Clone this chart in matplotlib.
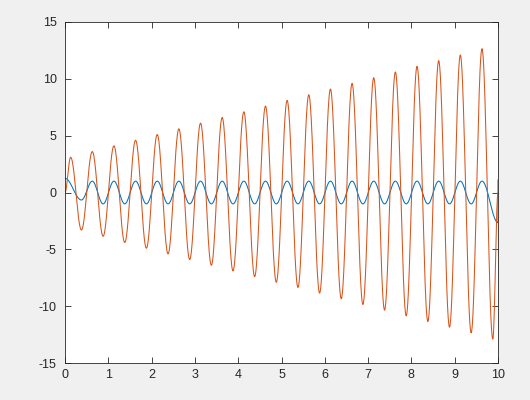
import numpy as np
import matplotlib.pyplot as plt

# extrema (t, value)
orange_t = [0.0, 0.13, 0.38, 0.63, 0.88, 1.13, 1.38, 1.63, 1.88, 2.13, 2.38,
            2.63, 2.88, 3.13, 3.38, 3.63, 3.88, 4.13, 4.38, 4.63, 4.88,
            5.13, 5.38, 5.63, 5.88, 6.13, 6.38, 6.63, 6.88, 7.13, 7.38,
            7.63, 7.88, 8.13, 8.38, 8.63, 8.88, 9.13, 9.38, 9.63, 9.88, 10.0]
orange_y = [0.0, 3.1, -3.3, 3.6, -3.85, 4.1, -4.4, 4.6, -4.9, 5.1, -5.4,
            5.6, -5.9, 6.1, -6.4, 6.6, -6.9, 7.1, -7.4, 7.6, -7.9,
            8.1, -8.35, 8.6, -8.85, 9.1, -9.35, 9.6, -9.85, 10.1, -10.35,
            10.6, -10.85, 11.1, -11.35, 11.6, -11.85, 12.1, -12.35, 12.65, -12.9, 0.0]

blue_t = [0.0, 0.38, 0.63, 0.88, 1.13, 1.38, 1.63, 1.88, 2.13, 2.38,
          2.63, 2.88, 3.13, 3.38, 3.63, 3.88, 4.13, 4.38, 4.63, 4.88,
          5.13, 5.38, 5.63, 5.88, 6.13, 6.38, 6.63, 6.88, 7.13, 7.38,
          7.63, 7.88, 8.13, 8.38, 8.63, 8.88, 9.13, 9.38, 9.63, 10.0, 10.0]
blue_y = [1.25, -0.66, 1.0, -1.0, 1.0, -1.0, 1.0, -1.0, 1.0, -1.0,
          1.0, -1.0, 1.0, -1.0, 1.0, -1.0, 1.0, -1.0, 1.0, -1.0,
          1.0, -1.0, 1.0, -1.0, 1.0, -1.0, 1.0, -1.0, 1.0, -1.0,
          1.0, -1.0, 1.0, -1.0, 1.0, -1.0, 1.0, -1.0, 1.0, -2.65, 1.1]


def smooth(tk, yk, n=40):
    # half-cosine arcs between consecutive read points
    xs, ys = [tk[0]], [yk[0]]
    for i in range(len(tk) - 1):
        s = np.linspace(0, 1, n)[1:]
        w = 0.5 - 0.5 * np.cos(np.pi * s)
        xs.extend(tk[i] + (tk[i + 1] - tk[i]) * s)
        ys.extend(yk[i] + (yk[i + 1] - yk[i]) * w)
    return np.array(xs), np.array(ys)


plt.rcParams['font.family'] = ['Liberation Sans', 'DejaVu Sans']
plt.rcParams['axes.unicode_minus'] = False
fig = plt.figure(figsize=(5.3, 4.0), dpi=100, facecolor='#f0f0f0')
ax = fig.add_axes([65 / 530, 1 - 363 / 400, 433 / 530, 341 / 400])

bx, by = smooth(blue_t, blue_y)
ox, oy = smooth(orange_t, orange_y)
ax.plot(bx, by, color='#0072BD', lw=0.75)
ax.plot(ox, oy, color='#D95319', lw=0.75)

ax.set_xlim(0, 10)
ax.set_ylim(-15, 15)
ax.set_xticks(range(0, 11))
ax.set_yticks(range(-15, 16, 5))
ax.tick_params(direction='in', top=True, right=True, length=4, width=0.6,
               colors='#262626', labelsize=9)
ax.tick_params(axis='x', pad=4)
ax.tick_params(axis='y', pad=6)
for sp in ax.spines.values():
    sp.set_color('#262626')
    sp.set_linewidth(0.6)

fig.savefig('out.png', dpi=100, facecolor=fig.get_facecolor())
